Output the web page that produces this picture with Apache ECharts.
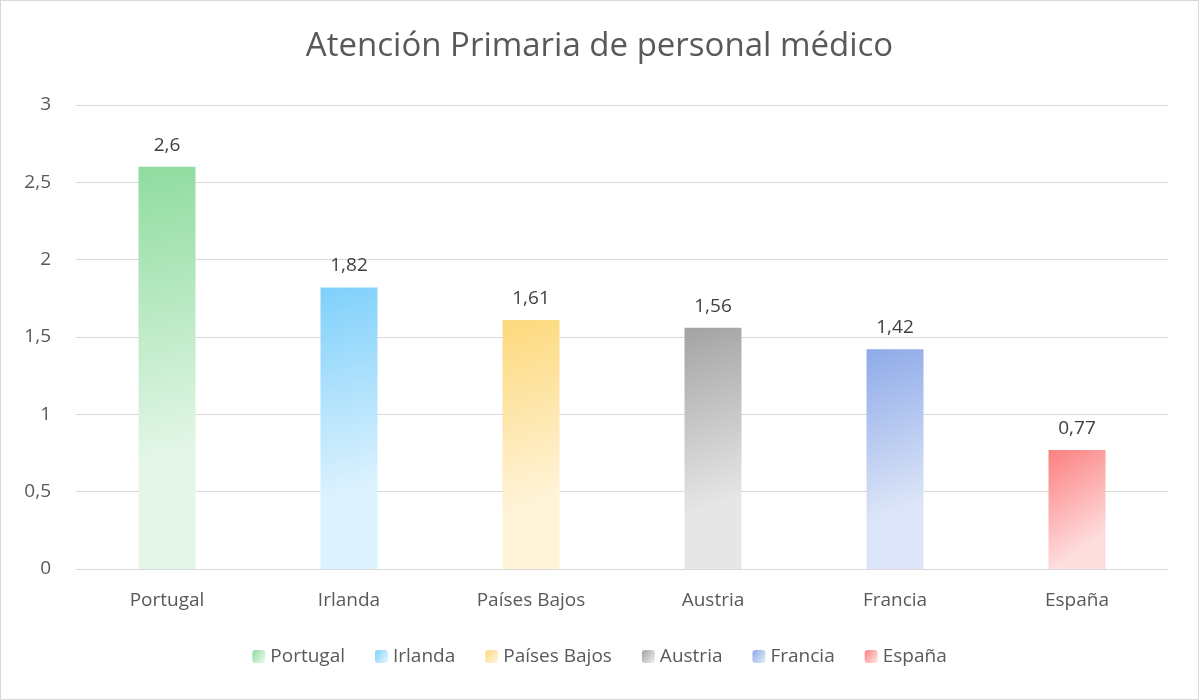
<!DOCTYPE html>
<html><head><meta charset="utf-8">
<script src="https://cdn.jsdelivr.net/npm/echarts@6/dist/echarts.min.js"></script>
<style>html,body{margin:0;padding:0;background:#fff}#c{width:1197px;height:698px;border:1px solid #d9d9d9}</style>
</head><body><div id="c"></div>
<script>
const categories = ['Portugal','Irlanda','Países Bajos','Austria','Francia','España'];
const values = [2.6, 1.82, 1.61, 1.56, 1.42, 0.77];
const yTicks = [0, 0.5, 1, 1.5, 2, 2.5, 3];
const colorsTop = ['#8fdc9f','#7fd0fb','#fdd97c','#a3a3a3','#8eaae8','#fb7f7f'];
const colorsBottom = ['#e3f6e7','#dcf2fe','#fff3d8','#e6e6e6','#dde6f8','#feddde'];
const fmt = v => String(v).replace('.', ',');
const series = categories.map((name, i) => ({
  name, type: 'bar', stack: 'all', barWidth: 57,
  data: categories.map((_, j) => j === i ? values[i] : null),
  itemStyle: { color: new echarts.graphic.LinearGradient(0, 0, 1, 0.7, [
    {offset: 0, color: colorsTop[i]}, {offset: 1, color: colorsBottom[i]}]) },
  label: { show: true, position: 'top', distance: 12, color: '#404040', fontSize: 19,
    fontFamily: 'Open Sans', formatter: p => fmt(p.value) }
}));
const chart = echarts.init(document.getElementById('c'));
chart.setOption({
  animation: false,
  title: { text: 'Atención Primaria de personal médico', left: 'center', top: 24,
    textStyle: { fontFamily: 'Open Sans', fontSize: 33, fontWeight: 'normal', color: '#595959' } },
  legend: { bottom: 28, itemWidth: 13, itemHeight: 13, itemGap: 30,
    textStyle: { fontFamily: 'Open Sans', fontSize: 19, color: '#595959' }, data: categories },
  grid: { left: 75, right: 30, top: 104, bottom: 130 },
  xAxis: { type: 'category', data: categories,
    axisLine: { lineStyle: { color: '#d9d9d9' } }, axisTick: { show: false },
    axisLabel: { fontFamily: 'Open Sans', fontSize: 19, color: '#595959', margin: 22 } },
  yAxis: { type: 'value', min: 0, max: 3, interval: 0.5,
    axisLabel: { fontFamily: 'Open Sans', fontSize: 19, color: '#595959', margin: 25, formatter: v => fmt(v) },
    splitLine: { lineStyle: { color: '#d9d9d9' } } },
  series
});
</script></body></html>
